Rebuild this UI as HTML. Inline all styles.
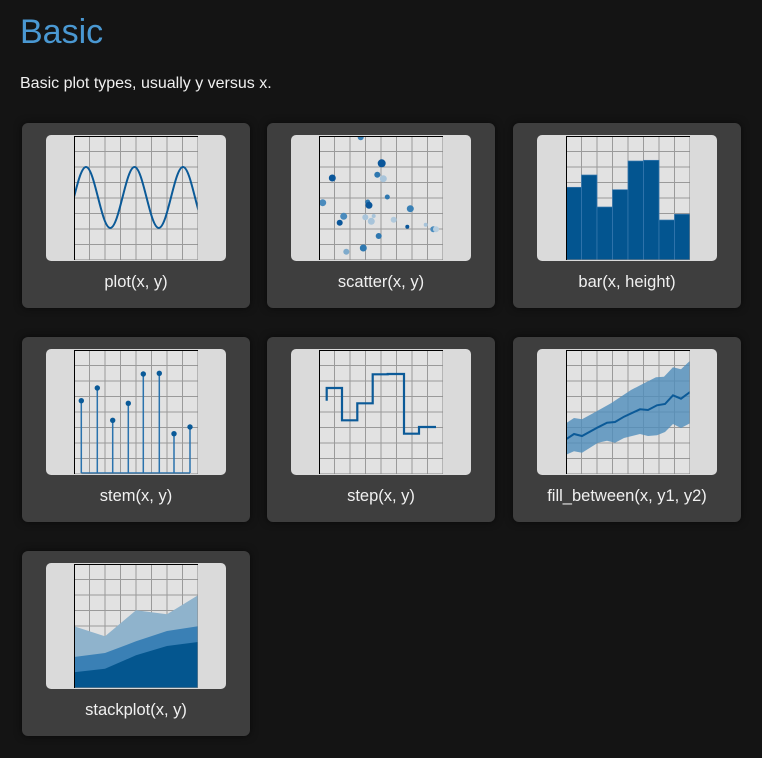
<!DOCTYPE html>
<html><head><meta charset="utf-8"><style>
body{margin:0;width:762px;height:758px;background:#141414;font-family:"Liberation Sans",sans-serif;position:relative;overflow:hidden}
h1{position:absolute;left:20px;top:13px;margin:0;font-weight:normal;font-size:34px;color:#4a98d2;font-family:"Liberation Sans",sans-serif}
.sub{position:absolute;left:20px;top:75px;color:#f0f0f0;font-size:16px}
.card{position:absolute;width:228px;height:185px;background:#3e3e3e;border-radius:6px;box-shadow:0 0 8px rgba(0,0,0,.6)}
.th{position:absolute;left:24px;top:12px;width:180px;height:126px;background:#dadada;border-radius:5px;overflow:hidden}
.th svg{position:absolute;left:28px;top:1px}
.lbl{position:absolute;left:0;width:228px;top:150px;text-align:center;color:#f0f0f0;font-size:16.5px}
</style></head><body>
<svg width="0" height="0" style="position:absolute"><defs>
<g id="grid"><rect width="124" height="124" fill="#e2e2e2"/>
<path d="M15.5 0V124M31 0V124M46.5 0V124M62 0V124M77.5 0V124M93 0V124M108.5 0V124M0 15.5H124M0 31H124M0 46.5H124M0 62H124M0 77.5H124M0 93H124M0 108.5H124" stroke="#9a9a9a" stroke-width="1" fill="none"/></g>
<g id="frame"><path d="M124 0V124H0" stroke="#888" fill="none"/><path d="M0.5 124V0.5H124" stroke="#000" fill="none"/></g>
</defs></svg>
<h1>Basic</h1>
<div class="sub">Basic plot types, usually y versus x.</div>

<div class="card" style="left:22px;top:123px"><div class="th"><svg width="124" height="124"><use href="#grid"/>
<path d="M-12.25 92C-3.5 92 3.3 31 12 31S27.3 92 36.25 92S51.8 31 60.5 31S75.8 92 84.75 92S100.3 31 109 31S124.3 92 133.25 92" stroke="#0b5a98" stroke-width="2" fill="none"/>
<use href="#frame"/></svg></div><div class="lbl">plot(x, y)</div></div>

<div class="card" style="left:267px;top:123px"><div class="th"><svg width="124" height="124"><use href="#grid"/>
<g>
<circle cx="41.7" cy="1.3" r="3" fill="#3a80b5"/>
<circle cx="62.7" cy="27.3" r="4" fill="#0a569a"/>
<circle cx="13.3" cy="42" r="3.5" fill="#0a569a"/>
<circle cx="58.3" cy="38.7" r="3" fill="#2f78b0"/>
<circle cx="64.3" cy="42.7" r="3.5" fill="#a8c4da"/>
<circle cx="3.7" cy="66.7" r="3.5" fill="#4a8bbd"/>
<circle cx="68.3" cy="61" r="2.5" fill="#2f78b0"/>
<circle cx="48.7" cy="66" r="2.5" fill="#2f78b0"/>
<circle cx="50" cy="69.3" r="3.5" fill="#0a569a"/>
<circle cx="91.3" cy="72.7" r="3.5" fill="#3a80b5"/>
<circle cx="24.7" cy="80.3" r="3.5" fill="#4a8bbd"/>
<circle cx="20.7" cy="86.7" r="3" fill="#0a569a"/>
<circle cx="46.3" cy="81.3" r="3" fill="#a8c4da"/>
<circle cx="54.7" cy="80" r="2" fill="#a8c4da"/>
<circle cx="52.3" cy="85.3" r="3.5" fill="#a8c4da"/>
<circle cx="74.7" cy="83.7" r="3" fill="#b0c9dc"/>
<circle cx="88.3" cy="90.7" r="2" fill="#0a569a"/>
<circle cx="106.7" cy="88.7" r="2" fill="#a8c4da"/>
<circle cx="114.3" cy="93.3" r="3" fill="#4a8bbd"/>
<circle cx="117" cy="93.3" r="3" fill="#b8cfe0"/>
<circle cx="59.7" cy="100" r="3" fill="#2f78b0"/>
<circle cx="44.3" cy="112" r="3.5" fill="#2f78b0"/>
<circle cx="27.3" cy="115.7" r="3" fill="#7fabcc"/>
</g>
<use href="#frame"/></svg></div><div class="lbl">scatter(x, y)</div></div>

<div class="card" style="left:513px;top:123px"><div class="th"><svg width="124" height="124" style="left:29px"><use href="#grid"/>
<g fill="#035590" stroke="#3a7ab0" stroke-width="0.7">
<rect x="0" y="51.3" width="15.5" height="73"/><rect x="15.5" y="39" width="15.5" height="85"/><rect x="31" y="71" width="15.5" height="53"/><rect x="46.5" y="53.7" width="15.5" height="71"/><rect x="62" y="25" width="15.5" height="99"/><rect x="77.5" y="24.3" width="15.5" height="100"/><rect x="93" y="84" width="15.5" height="40"/><rect x="108.5" y="78.3" width="15.5" height="46"/></g>
<use href="#frame"/></svg></div><div class="lbl">bar(x, height)</div></div>

<div class="card" style="left:22px;top:337px"><div class="th"><svg width="124" height="124"><use href="#grid"/>
<g stroke="#2a72ad" stroke-width="1.5"><path d="M7.3 123V50.7M23.3 123V38M38.7 123V70.3M54.3 123V53.3M69.3 123V24M85.3 123V23.3M100 123V83.7M116 123V77M7.3 123H116"/></g>
<g fill="#0a5a98"><circle cx="7.3" cy="50.7" r="2.7"/><circle cx="23.3" cy="38" r="2.7"/><circle cx="38.7" cy="70.3" r="2.7"/><circle cx="54.3" cy="53.3" r="2.7"/><circle cx="69.3" cy="24" r="2.7"/><circle cx="85.3" cy="23.3" r="2.7"/><circle cx="100" cy="83.7" r="2.7"/><circle cx="116" cy="77" r="2.7"/></g>
<use href="#frame"/></svg></div><div class="lbl">stem(x, y)</div></div>

<div class="card" style="left:267px;top:337px"><div class="th"><svg width="124" height="124"><use href="#grid"/>
<path d="M7.7 50.7V38H23V70.3H38.3V53.3H53.7V24.3H68.7V24H85V83.7H100V77H117" stroke="#0b5a98" stroke-width="2.2" fill="none"/>
<use href="#frame"/></svg></div><div class="lbl">step(x, y)</div></div>

<div class="card" style="left:513px;top:337px"><div class="th"><svg width="124" height="124" style="left:29px"><use href="#grid"/>
<path d="M0 73.3L8 68L16 69.3L28 62.7L45 53.3L65 40L78 33.3L90 27.3L98 26.7L107 17.3L115 19.3L124 10.7V73.3L115 78L107 74L99 82L91 85.3L82 86L74 84L58 88L49 92.7L41 90.7L32 92.7L16 102.7L8 101.3L0 104.7Z" fill="#4f8dbb" fill-opacity="0.8"/>
<path d="M0 89.3L8 84L16 86L32 77.3L41 72.7L49 72L58 66.7L74 59.3L82 60L91 55.3L99 54L107 45.3L115 48.7L124 42" stroke="#0b5a98" stroke-width="2" fill="none"/>
<use href="#frame"/></svg></div><div class="lbl">fill_between(x, y1, y2)</div></div>

<div class="card" style="left:22px;top:551px"><div class="th"><svg width="124" height="124"><use href="#grid"/>
<path d="M0 62.3L31 72.3L62 46.3L93 50.3L124 31.3V124H0Z" fill="#8fb3cc"/>
<path d="M0 93L31 89L62 77.3L93 67L124 62.3V124H0Z" fill="#3a80b5"/>
<path d="M0 108.3L31 104.7L62 91.3L93 82L124 78V124H0Z" fill="#04568f"/>
<use href="#frame"/></svg></div><div class="lbl">stackplot(x, y)</div></div>
</body></html>
